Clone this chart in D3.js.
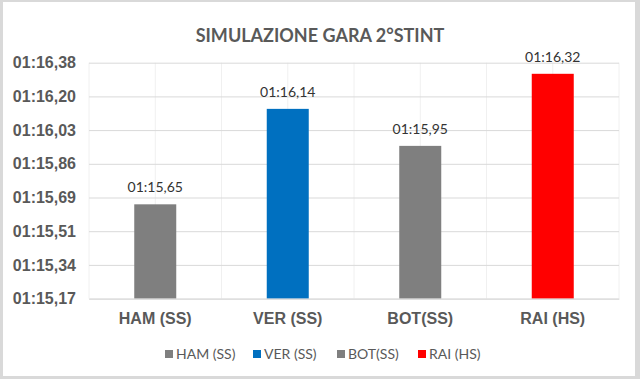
<!DOCTYPE html>
<html><head><meta charset="utf-8">
<script src="https://cdn.jsdelivr.net/npm/d3@7"></script>
<style>body{margin:0;background:#fff}svg{display:block}</style>
</head><body>
<svg id="chart" width="640" height="379"></svg>
<script>
const categories = ["HAM (SS)", "VER (SS)", "BOT(SS)", "RAI (HS)"];
const values = [75.65, 76.14, 75.95, 76.32]; // seconds
const valueLabels = ["01:15,65", "01:16,14", "01:15,95", "01:16,32"];
const barColors = ["#7F7F7F", "#0070C0", "#7F7F7F", "#FF0000"];
const tickValues = [75.166, 75.339, 75.512, 75.685, 75.858, 76.031, 76.204, 76.377];
const tickLabels = ["01:15,17", "01:15,34", "01:15,51", "01:15,69", "01:15,86", "01:16,03", "01:16,20", "01:16,38"];
const title = "SIMULAZIONE GARA 2°STINT";

const svg = d3.select("#chart");
svg.append("rect").attr("width", 640).attr("height", 379).attr("fill", "#d9d9d9");
svg.append("rect").attr("x", 3).attr("y", 2).attr("width", 632).attr("height", 374).attr("fill", "#fff");

const m = {left: 89, right: 619, top: 62.7, bottom: 298.6};
const x = d3.scaleBand().domain(categories).range([m.left, m.right]).paddingInner(0).paddingOuter(0);
const y = d3.scaleLinear().domain([tickValues[0], tickValues[tickValues.length - 1]]).range([m.bottom, m.top]);

// vertical faint gridlines (every half band)
const vlines = [];
categories.forEach((c, i) => { vlines.push(x(c)); vlines.push(x(c) + x.bandwidth() / 2); });
vlines.push(m.right);
svg.append("g").selectAll("line").data(vlines).join("line")
  .attr("x1", d => d).attr("x2", d => d).attr("y1", m.top).attr("y2", m.bottom)
  .attr("stroke", "#f0f0f0").attr("stroke-width", 1);

// horizontal gridlines
const yAxis = d3.axisLeft(y).tickValues(tickValues).tickSize(-(m.right - m.left)).tickPadding(13)
  .tickFormat((d, i) => tickLabels[i]);
const gy = svg.append("g").attr("transform", `translate(${m.left},0)`).call(yAxis);
gy.select(".domain").remove();
gy.selectAll(".tick line").attr("stroke", "#d9d9d9").attr("stroke-width", 1);
gy.selectAll(".tick text").attr("fill", "#595959").attr("font-family", "Liberation Sans, Arial, sans-serif")
  .attr("font-size", 16).attr("font-weight", "bold");

// bars
const bw = 42;
svg.append("g").selectAll("rect").data(values).join("rect")
  .attr("x", (d, i) => x(categories[i]) + x.bandwidth() / 2 - bw / 2)
  .attr("width", bw)
  .attr("y", d => y(d))
  .attr("height", d => m.bottom - y(d))
  .attr("fill", (d, i) => barColors[i]);

// data labels
svg.append("g").selectAll("text").data(values).join("text")
  .attr("x", (d, i) => x(categories[i]) + x.bandwidth() / 2)
  .attr("y", d => y(d) - 12)
  .attr("text-anchor", "middle")
  .attr("font-family", "Lato, sans-serif").attr("font-size", 14)
  .attr("fill", "#333")
  .text((d, i) => valueLabels[i]);

// x axis
const xAxis = d3.axisBottom(x).tickSize(0).tickPadding(14);
const gx = svg.append("g").attr("transform", `translate(0,${m.bottom})`).call(xAxis);
gx.select(".domain").attr("stroke", "#d9d9d9");
gx.selectAll(".tick text").attr("fill", "#595959").attr("font-family", "Liberation Sans, Arial, sans-serif")
  .attr("font-size", 16).attr("font-weight", "bold");

// title
svg.append("text").attr("x", 320).attr("y", 42).attr("text-anchor", "middle")
  .attr("font-family", "Lato, sans-serif").attr("font-size", 18).attr("font-weight", "bold").attr("fill", "#595959")
  .text(title);

// legend
const legendX = [165, 253, 337, 418];
const lg = svg.append("g").selectAll("g").data(categories).join("g")
  .attr("transform", (d, i) => `translate(${legendX[i]},354)`);
lg.append("rect").attr("x", 0).attr("y", -4).attr("width", 8).attr("height", 8)
  .attr("fill", (d, i) => barColors[i]);
lg.append("text").attr("x", 11).attr("y", 5).attr("font-family", "Lato, sans-serif")
  .attr("font-size", 14).attr("fill", "#595959").text(d => d);
</script>
</body></html>
